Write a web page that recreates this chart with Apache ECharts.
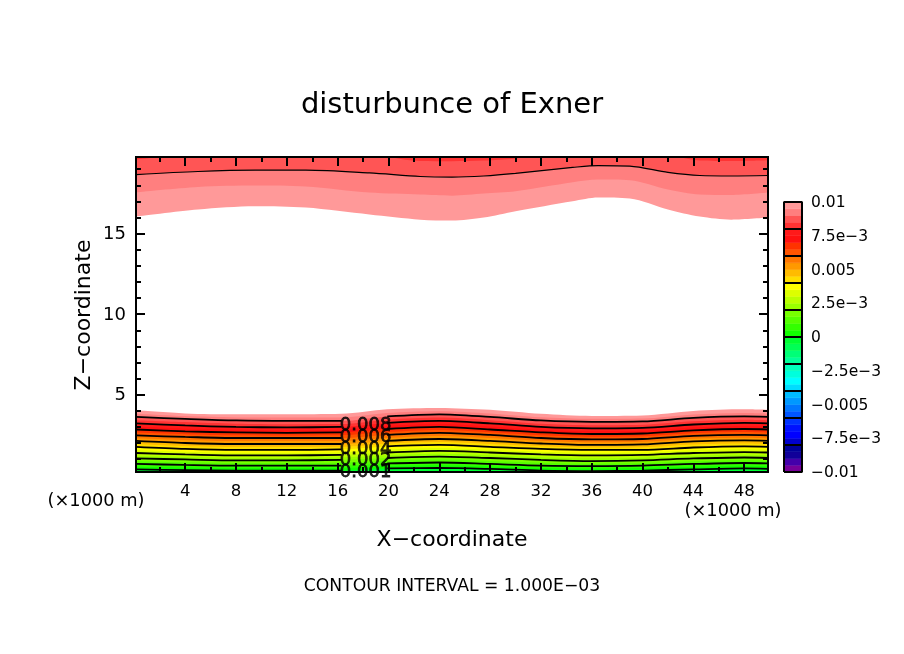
<!DOCTYPE html>
<html>
<head>
<meta charset="utf-8">
<style>
html, body { margin: 0; padding: 0; background: #fff; }
#main { width: 904px; height: 654px; }
</style>
<script src="https://cdn.jsdelivr.net/npm/echarts@6/dist/echarts.min.js"></script>
</head>
<body>
<div id="main"></div>
<script>
// tick positions and labels
var xMajorTicks = [4, 8, 12, 16, 20, 24, 28, 32, 36, 40, 44, 48];
var xMinorTicks = [2, 6, 10, 14, 18, 22, 26, 30, 34, 38, 42, 46];
var zMajorTicks = [5, 10, 15];
var zMinorTicks = [1, 2, 3, 4, 6, 7, 8, 9, 11, 12, 13, 14, 16, 17, 18, 19];
var colorbarLabels = ['\u22120.01', '\u22127.5e\u22123', '\u22120.005', '\u22122.5e\u22123', '0', '2.5e\u22123', '0.005', '7.5e\u22123', '0.01'];
var colorbarEdges = [-0.008, -0.006, -0.004, -0.002, 0, 0.002, 0.004, 0.006, 0.008];

// colour of each 0.0005 wide band, from -0.01 up to 0.01
var bandColors = [
    '#770099', '#4400aa', '#110099', '#000099',
    '#0000cc', '#0000ff', '#0011ff', '#0033ff',
    '#0055ff', '#0077ff', '#0099ff', '#00bbff',
    '#00ddff', '#00ffff', '#00ffdd', '#00ffbb',
    '#00ff99', '#00ff77', '#00ff55', '#00ff33',
    '#11ff00', '#33ff00', '#55ff00', '#77ff00',
    '#99ff00', '#bbff00', '#ddff00', '#ffff00',
    '#ffdd00', '#ffbb00', '#ff9900', '#ff7700',
    '#ff5500', '#ff3300', '#ff1111', '#ff1a1a',
    '#ff3333', '#ff5555', '#ff7f7f', '#ff9999'
];

// upper layer: height (km) of each contour level
var topX = [0.125, 5, 9.5, 13.5, 18.5, 22.5, 25, 27.5, 30, 34.5, 36.5, 39, 42, 44.5, 47, 49.875];
var top100 = [16.06, 16.50, 16.70, 16.62, 16.19, 15.87, 15.81, 16.00, 16.39, 17.01, 17.24, 17.18, 16.50, 16.06, 15.87, 16.00];
var top095 = [17.57, 17.90, 17.99, 17.93, 17.55, 17.43, 17.36, 17.49, 17.63, 18.19, 18.36, 18.32, 17.74, 17.43, 17.40, 17.55];
var top090 = [18.67, 18.86, 18.94, 18.94, 18.77, 18.55, 18.51, 18.58, 18.74, 19.11, 19.23, 19.19, 18.81, 18.61, 18.58, 18.61];
var top085 = [19.61, 19.92, 20.04, 20.04, 19.92, 19.51, 19.50, 19.54, 19.67, 20.23, 20.35, 20.35, 19.92, 19.54, 19.51, 19.56];

// lower layer: height (km) of each contour level
var lowX = [0.125, 4, 8, 12, 16.3, 19.9, 24, 28, 32, 36, 40, 44, 48, 49.875];
var low100 = [4.03, 3.84, 3.78, 3.78, 3.81, 4.09, 4.18, 4.06, 3.81, 3.68, 3.71, 3.99, 4.09, 4.06];
var low095 = [3.82, 3.67, 3.59, 3.58, 3.59, 3.87, 3.98, 3.84, 3.60, 3.50, 3.52, 3.77, 3.87, 3.84];
var low090 = [3.62, 3.50, 3.40, 3.37, 3.37, 3.65, 3.78, 3.62, 3.40, 3.31, 3.34, 3.56, 3.65, 3.62];
var low085 = [3.42, 3.30, 3.20, 3.17, 3.18, 3.45, 3.58, 3.42, 3.20, 3.11, 3.14, 3.35, 3.45, 3.42];
var low080 = [3.22, 3.09, 3.00, 2.97, 3.00, 3.25, 3.37, 3.22, 3.00, 2.91, 2.94, 3.15, 3.25, 3.22];
var low075 = [3.03, 2.90, 2.83, 2.80, 2.83, 3.06, 3.18, 3.03, 2.83, 2.73, 2.76, 2.96, 3.06, 3.03];
var low070 = [2.84, 2.72, 2.66, 2.63, 2.66, 2.87, 3.00, 2.84, 2.66, 2.56, 2.59, 2.78, 2.87, 2.84];
var low065 = [2.65, 2.55, 2.48, 2.47, 2.48, 2.68, 2.81, 2.67, 2.48, 2.39, 2.42, 2.61, 2.68, 2.65];
var low060 = [2.47, 2.38, 2.31, 2.31, 2.31, 2.50, 2.63, 2.50, 2.31, 2.22, 2.25, 2.44, 2.50, 2.47];
var low055 = [2.30, 2.19, 2.12, 2.12, 2.12, 2.31, 2.44, 2.31, 2.14, 2.05, 2.08, 2.27, 2.33, 2.30];
var low050 = [2.13, 2.00, 1.94, 1.94, 1.94, 2.13, 2.25, 2.13, 1.97, 1.88, 1.91, 2.10, 2.16, 2.13];
var low045 = [1.94, 1.81, 1.75, 1.75, 1.77, 1.96, 2.06, 1.94, 1.80, 1.72, 1.74, 1.91, 1.97, 1.94];
var low040 = [1.76, 1.63, 1.57, 1.57, 1.60, 1.79, 1.88, 1.76, 1.63, 1.57, 1.57, 1.72, 1.79, 1.76];
var low035 = [1.57, 1.46, 1.40, 1.40, 1.43, 1.60, 1.69, 1.58, 1.46, 1.40, 1.41, 1.55, 1.61, 1.58];
var low030 = [1.38, 1.29, 1.23, 1.23, 1.26, 1.41, 1.51, 1.41, 1.29, 1.23, 1.26, 1.38, 1.44, 1.41];
var low025 = [1.21, 1.13, 1.07, 1.07, 1.10, 1.24, 1.33, 1.24, 1.12, 1.05, 1.09, 1.21, 1.27, 1.24];
var low020 = [1.04, 0.98, 0.92, 0.92, 0.95, 1.07, 1.16, 1.07, 0.95, 0.88, 0.92, 1.04, 1.10, 1.07];
var low015 = [0.87, 0.81, 0.76, 0.76, 0.78, 0.90, 0.97, 0.88, 0.78, 0.72, 0.76, 0.87, 0.93, 0.90];
var low010 = [0.70, 0.64, 0.60, 0.60, 0.60, 0.73, 0.79, 0.70, 0.60, 0.57, 0.60, 0.70, 0.76, 0.73];
var low005 = [0.53, 0.48, 0.45, 0.45, 0.45, 0.57, 0.62, 0.54, 0.45, 0.41, 0.45, 0.53, 0.59, 0.56];
var low000 = [0.36, 0.32, 0.29, 0.29, 0.29, 0.42, 0.45, 0.39, 0.29, 0.26, 0.29, 0.36, 0.42, 0.39];

// contour labels
var contourLabels = ['0.008', '0.006', '0.004', '0.002', '0.001'];
var contourLabelX = [18.2, 18.2, 18.2, 18.2, 18.2];
var contourLabelZ = [3.12, 2.38, 1.63, 0.95, 0.20];

var FONT = 'DejaVu Sans';
var SMOOTH = 0.3;

function pairUp(xs, zs) {
    return xs.map(function (x, i) { return [x, zs[i]]; });
}

// filled band: everything beyond the edge gets the colour, later series paint over it
function bandSeries(xs, zs, color, origin) {
    return {
        type: 'line',
        data: pairUp(xs, zs),
        showSymbol: false,
        smooth: SMOOTH,
        silent: true,
        lineStyle: { width: 0 },
        areaStyle: { color: color, opacity: 1, origin: origin },
        z: 2
    };
}

function contourSeries(data, width) {
    return {
        type: 'line',
        data: data,
        showSymbol: false,
        smooth: SMOOTH,
        silent: true,
        lineStyle: { color: '#000', width: width },
        z: 3
    };
}

// contour lines stop where the labels sit (between the 5th and 6th points)
function brokenContour(zs) {
    var data = pairUp(lowX, zs);
    data.splice(5, 0, [18.2, '-']);
    return contourSeries(data, 1.8);
}

// each side of the frame needs two axes, one for long ticks and one for short ones
function xAxisOf(position, ticks, tickLen, showLabels) {
    return {
        type: 'value', gridIndex: 0, position: position, min: 0.125, max: 49.875, z: 10,
        axisLine: { show: true, onZero: false, lineStyle: { color: '#000', width: 2 } },
        axisTick: { show: true, inside: true, length: tickLen, customValues: ticks, lineStyle: { color: '#000', width: 2 } },
        axisLabel: { show: showLabels, customValues: ticks, margin: 11, color: '#000', fontFamily: FONT, fontSize: 16.5 },
        splitLine: { show: false }
    };
}

function yAxisOf(position, ticks, tickLen, showLabels) {
    return {
        type: 'value', gridIndex: 0, position: position, min: 0.2, max: 19.76, z: 10,
        axisLine: { show: true, onZero: false, lineStyle: { color: '#000', width: 2 } },
        axisTick: { show: true, inside: true, length: tickLen, customValues: ticks, lineStyle: { color: '#000', width: 2 } },
        // small line box hung from the tick, puts the digits level with it
        axisLabel: { show: showLabels, customValues: ticks, margin: 10, verticalAlign: 'top', lineHeight: 2, color: '#000', fontFamily: FONT, fontSize: 18 },
        splitLine: { show: false }
    };
}

function plainText(x, y, text, size, extra) {
    return Object.assign({
        type: 'text', x: x, y: y,
        style: { text: text, fontFamily: FONT, fontSize: size, fill: '#000', textAlign: 'center', textVerticalAlign: 'middle' }
    }, extra || {});
}

var series = [];

[[top100, 39], [top095, 38], [top090, 37], [top085, 36]].forEach(function (b) {
    series.push(bandSeries(topX, b[0], bandColors[b[1]], 'end'));
});

[low100, low095, low090, low085, low080, low075, low070, low065, low060, low055,
    low050, low045, low040, low035, low030, low025, low020, low015, low010, low005, low000
].forEach(function (zs, i) {
    // the lowest edge is 0, below that is the band under zero
    series.push(bandSeries(lowX, zs, bandColors[39 - i], 'start'));
});

series.push(contourSeries(pairUp(topX, top090), 1.2));
[low090, low080, low070, low060, low050, low040, low030, low020, low010, low000].forEach(function (zs) {
    series.push(brokenContour(zs));
});

series.push({
    type: 'scatter',
    data: contourLabels.map(function (t, i) { return { name: t, value: [contourLabelX[i], contourLabelZ[i]] }; }),
    symbolSize: 1,
    itemStyle: { color: 'transparent' },
    silent: true,
    clip: false,
    z: 6,
    labelLayout: { hideOverlap: false },
    label: {
        show: true, position: 'inside', formatter: '{b}', color: '#000',
        fontFamily: FONT, fontSize: 18, textBorderColor: '#000', textBorderWidth: 0.8
    }
});

// colour bar
series.push({
    type: 'custom',
    xAxisIndex: 4,
    yAxisIndex: 4,
    silent: true,
    data: bandColors.map(function (c, i) { return [-0.01 + i * 0.0005, -0.01 + (i + 1) * 0.0005]; }),
    encode: { y: [0, 1] },
    renderItem: function (params, api) {
        var a = api.coord([0, api.value(0)]);
        var b = api.coord([1, api.value(1)]);
        return {
            type: 'rect',
            shape: { x: a[0], y: b[1], width: b[0] - a[0], height: a[1] - b[1] },
            style: { fill: bandColors[params.dataIndex], stroke: bandColors[params.dataIndex], lineWidth: 0.5 }
        };
    },
    z: 2
});

var separators = [];
colorbarEdges.forEach(function (v) {
    separators.push([0, v], [1, v], [0.5, '-']);
});
series.push({
    type: 'line', xAxisIndex: 4, yAxisIndex: 4, data: separators, showSymbol: false, silent: true,
    lineStyle: { color: '#000', width: 2 }, z: 3
});
series.push({
    type: 'line', xAxisIndex: 4, yAxisIndex: 4, showSymbol: false, silent: true, clip: false,
    data: [[0, -0.01], [0, 0.01], [1, 0.01], [1, -0.01], [0, -0.01]],
    lineStyle: { color: '#000', width: 2 }, z: 3
});

var myChart = echarts.init(document.getElementById('main'), null, { renderer: 'canvas' });

var option = {
    animation: false,
    backgroundColor: '#fff',
    title: {
        text: 'disturbunce of Exner',
        left: 452, top: 105, textAlign: 'center', textVerticalAlign: 'middle',
        textStyle: { fontFamily: FONT, fontSize: 29, fontWeight: 'normal', color: '#000' },
        padding: [0, 5, 0, 0]
    },
    grid: [
        { left: 136, top: 157, width: 632, height: 315 },
        { left: 784, top: 202, width: 18, height: 270 }
    ],
    xAxis: [
        xAxisOf('bottom', xMajorTicks, 9, true),
        xAxisOf('bottom', xMinorTicks, 5, false),
        xAxisOf('top', xMajorTicks, 9, false),
        xAxisOf('top', xMinorTicks, 5, false),
        { type: 'value', gridIndex: 1, min: 0, max: 1, show: false }
    ],
    yAxis: [
        yAxisOf('left', zMajorTicks, 9, true),
        yAxisOf('left', zMinorTicks, 5, false),
        yAxisOf('right', zMajorTicks, 9, false),
        yAxisOf('right', zMinorTicks, 5, false),
        {
            type: 'value', gridIndex: 1, position: 'right', min: -0.01, max: 0.01, interval: 0.0025,
            axisLine: { show: false }, axisTick: { show: false }, splitLine: { show: false },
            axisLabel: {
                margin: 9, verticalAlign: 'top', lineHeight: 2, color: '#000', fontFamily: FONT, fontSize: 15.5,
                showMinLabel: true, showMaxLabel: true,
                formatter: function (value, index) { return colorbarLabels[index]; }
            }
        }
    ],
    series: series,
    graphic: [
        plainText(96, 501, '(\u00d71000 m)', 17.8),
        plainText(733, 511, '(\u00d71000 m)', 17.8),
        plainText(452, 540, 'X\u2212coordinate', 22),
        plainText(84, 315, 'Z\u2212coordinate', 22, { rotation: Math.PI / 2 }),
        plainText(452, 587, 'CONTOUR INTERVAL = 1.000E\u221203', 17.2)
    ]
};

myChart.setOption(option);
</script>
</body>
</html>
